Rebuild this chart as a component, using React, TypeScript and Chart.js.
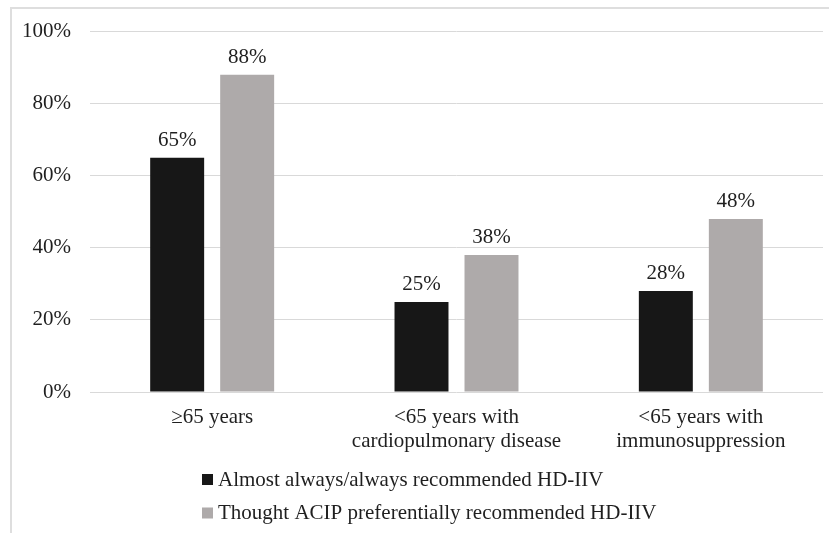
import React, { useEffect, useRef } from "react";
import { Chart, registerables } from "chart.js";

Chart.register(...registerables);

const categories: string[][] = [
  ["≥65 years"],
  ["<65 years with", "cardiopulmonary disease"],
  ["<65 years with", "immunosuppression"],
];
const seriesNames = [
  "Almost always/always recommended HD-IIV",
  "Thought ACIP preferentially recommended HD-IIV",
];
const almostAlways = [65, 25, 28];
const thoughtAcip = [88, 38, 48];
const yTicks = [0, 20, 40, 60, 80, 100];

const FONT = "'Liberation Serif', 'Times New Roman', serif";
const FS = 21;
const TEXT = "#1f1f1f";
const COLORS = ["#171717", "#aeaaaa"];

const labelPlugin = {
  id: "valueLabels",
  afterDatasetsDraw(chart: any) {
    const ctx = chart.ctx;
    ctx.save();
    ctx.font = `${FS}px ${FONT}`;
    ctx.fillStyle = TEXT;
    ctx.textAlign = "center";
    ctx.textBaseline = "alphabetic";
    chart.data.datasets.forEach((ds: any, i: number) => {
      const meta = chart.getDatasetMeta(i);
      meta.data.forEach((bar: any, j: number) => {
        ctx.fillText(`${ds.data[j]}%`, bar.x, bar.y - 12);
      });
    });
    ctx.restore();
  },
};

const legendPlugin = {
  id: "customLegend",
  afterDraw(chart: any) {
    const ctx = chart.ctx;
    const base = chart.chartArea.bottom;
    ctx.save();
    ctx.font = `${FS}px ${FONT}`;
    ctx.textAlign = "left";
    ctx.textBaseline = "alphabetic";
    chart.data.datasets.forEach((ds: any, i: number) => {
      const baseline = base + 93.5 + i * 33.5;
      ctx.fillStyle = ds.backgroundColor;
      ctx.fillRect(202, baseline - 11.5, 11, 11);
      ctx.fillStyle = TEXT;
      ctx.fillText(ds.label, 218, baseline);
    });
    ctx.restore();
  },
};

export default function App() {
  const ref = useRef<HTMLCanvasElement | null>(null);
  useEffect(() => {
    if (!ref.current) return;
    const chart = new Chart(ref.current, {
      type: "bar",
      data: {
        labels: categories,
        datasets: [
          {
            label: seriesNames[0],
            data: almostAlways,
            backgroundColor: COLORS[0],
            categoryPercentage: 0.573,
            barPercentage: 0.771,
          },
          {
            label: seriesNames[1],
            data: thoughtAcip,
            backgroundColor: COLORS[1],
            categoryPercentage: 0.573,
            barPercentage: 0.771,
          },
        ],
      },
      options: {
        animation: false,
        responsive: false,
        devicePixelRatio: 1,
        layout: { padding: { left: 0, top: 28, right: 6, bottom: 0 } },
        plugins: {
          legend: { display: false },
          tooltip: { enabled: false },
        },
        scales: {
          x: {
            grid: { display: false, drawTicks: false },
            border: { display: false },
            ticks: {
              font: { family: FONT, size: FS, lineHeight: 1.12 },
              color: TEXT,
              padding: 14,
              maxRotation: 0,
              autoSkip: false,
            },
            afterFit: (scale: any) => {
              scale.height = 141;
            },
          },
          y: {
            min: 0,
            max: 100,
            afterBuildTicks: (scale: any) => {
              scale.ticks = yTicks.map((v) => ({ value: v }));
            },
            grid: { color: "#d9d9d9", lineWidth: 1, drawTicks: false },
            border: { display: false },
            ticks: {
              font: { family: FONT, size: FS },
              color: TEXT,
              padding: 19,
              callback: (v: any) => `${v}%`,
            },
            afterFit: (scale: any) => {
              scale.width = 90;
            },
          },
        },
      },
      plugins: [labelPlugin, legendPlugin],
    });
    return () => chart.destroy();
  }, []);

  return (
    <div
      style={{
        position: "fixed",
        left: 0,
        top: 0,
        width: 829,
        height: 533,
        overflow: "hidden",
        background: "#ffffff",
      }}
    >
      <div
        style={{
          position: "absolute",
          left: 10,
          top: 7,
          width: 900,
          height: 600,
          borderLeft: "2px solid #dedede",
          borderTop: "2px solid #dedede",
        }}
      />
      <canvas
        ref={ref}
        width={829}
        height={533}
        style={{ position: "absolute", left: 0, top: 0, width: 829, height: 533 }}
      />
    </div>
  );
}
